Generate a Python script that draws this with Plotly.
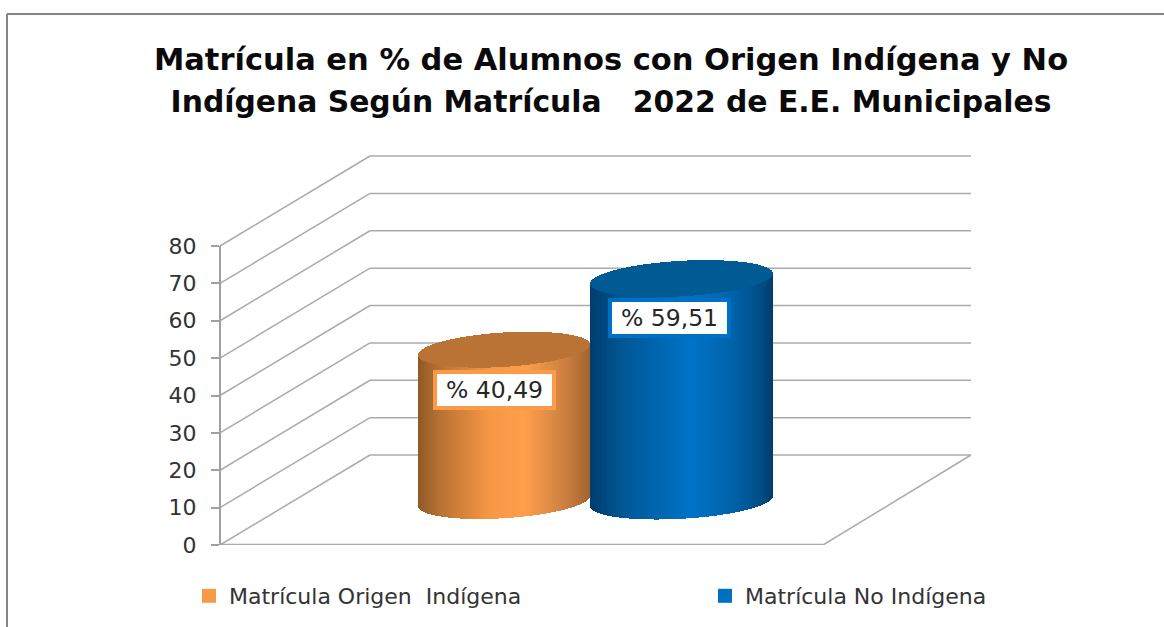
import numpy as np
import plotly.graph_objects as go

# ---- data ----
categories = ["Matrícula Origen  Indígena", "Matrícula No Indígena"]
values = [40.49, 59.51]
value_labels = ["% 40,49", "% 59,51"]
tick_values = [0, 10, 20, 30, 40, 50, 60, 70, 80]
title_lines = ["Matrícula en % de Alumnos con Origen Indígena y No",
               "Indígena Según Matrícula   2022 de E.E. Municipales"]

# ---- style / geometry ----
W, H = 1164, 627
L, R, T, B = 220, 971, 155, 545       # plot area in page pixels
PX_PER_UNIT = 3.7375                  # vertical pixels per value unit
YMAX = (B - T) / PX_PER_UNIT
XMAX = R - L
DEPTH_X, DEPTH_Y = 150, 90 / PX_PER_UNIT
FLOOR_W = 603
GRID = "#ababab"
FONT = "DejaVu Sans"
title_sizes = [30.5, 29.8]

legend_colors = ["#f79a46", "#0070c0"]
top_colors = ["#bb7335", "#005a94"]
label_borders = ["#fb9b48", "#0070c4"]
centers = [284, 461.5]
half_widths = [86, 91.5]
tilts = [25, 25]
half_depths = [18 / PX_PER_UNIT, 18.5 / PX_PER_UNIT]
base_level = 44 / PX_PER_UNIT
stops = [
    [(0, "#8f5a26"), (.14, "#bb7434"), (.42, "#f89846"), (.62, "#ff9f4c"), (.86, "#cb8040"), (1, "#a26430")],
    [(0, "#003d6e"), (.18, "#005896"), (.55, "#0073c8"), (.78, "#0063aa"), (.94, "#004d84"), (1, "#003c68")],
]


def hex2rgb(h):
    return np.array([int(h[i:i + 2], 16) for i in (1, 3, 5)], float)


def shade(f, st):
    pos = [s[0] for s in st]
    rgb = np.array([hex2rgb(s[1]) for s in st])
    c = [np.interp(f, pos, rgb[:, i]) for i in range(3)]
    return "rgb(%d,%d,%d)" % tuple(c)


def ellipse_edges(u, ext, tilt, depth):
    """lower / upper edge of a tilted ellipse at horizontal offset u"""
    a = np.sqrt(ext ** 2 - tilt ** 2)
    t = np.linspace(0, 2 * np.pi, 4001)
    x = a * np.cos(t) + tilt * np.sin(t)
    y = depth * np.sin(t)
    i0, i1 = int(np.argmin(x)), int(np.argmax(x))
    idx = np.arange(i0, i1 + 1) if i0 < i1 else np.r_[np.arange(i0, 4001), np.arange(0, i1 + 1)]
    lo = np.interp(u, x[idx], y[idx])
    idx2 = np.arange(i1, i0 + 1) if i1 < i0 else np.r_[np.arange(i1, 4001), np.arange(0, i0 + 1)]
    up = np.interp(u, x[idx2][::-1], y[idx2][::-1])
    return lo, up


fig = go.Figure()
legend_ids = ["legend", "legend2"]
for k, v in enumerate(values):
    ext = half_widths[k]
    u = np.arange(-ext + .5, ext, 1.0)
    lo, up = ellipse_edges(u, ext, tilts[k], half_depths[k])
    xs = centers[k] + u
    cols = [shade((x + ext) / (2 * ext), stops[k]) for x in u]
    # cylinder body: each strip is exactly the value tall
    fig.add_trace(go.Bar(x=xs, y=[v] * len(u), base=base_level + lo, width=1.0,
                         marker=dict(color=cols, line=dict(width=0)),
                         showlegend=False, hoverinfo="skip"))
    # cylinder top
    fig.add_trace(go.Bar(x=xs, y=up - lo, base=base_level + v + lo, width=1.0,
                         marker=dict(color=top_colors[k], line=dict(width=0)),
                         showlegend=False, hoverinfo="skip"))
    # legend key
    fig.add_trace(go.Scatter(x=[None], y=[None], mode="markers", name=categories[k], legend=legend_ids[k],
                             marker=dict(symbol="square", size=14, color=legend_colors[k])))


def xp(px):
    return (px - L) / XMAX


def yp(py):
    return (B - py) / (B - T)


shapes = []


def seg(x0, y0, x1, y1, color=GRID, width=1.5):
    shapes.append(dict(type="line", xref="paper", yref="y", x0=x0 / XMAX, x1=x1 / XMAX, y0=y0, y1=y1,
                       line=dict(color=color, width=width), layer="below"))


for tv in tick_values:
    seg(0, tv, DEPTH_X, tv + DEPTH_Y)
    seg(DEPTH_X, tv + DEPTH_Y, XMAX, tv + DEPTH_Y)
seg(0, 0, 0, tick_values[-1], "#a0a0a0", 2)
seg(0, 0, FLOOR_W, 0, "#ababab", 2.5)
seg(FLOOR_W, 0, XMAX, DEPTH_Y)

# outer frame of the picture
frame = "#858585"
shapes.append(dict(type="line", xref="paper", yref="paper", x0=xp(7), x1=xp(W), y0=yp(14), y1=yp(14),
                   line=dict(color=frame, width=2)))
shapes.append(dict(type="line", xref="paper", yref="paper", x0=xp(7), x1=xp(7), y0=yp(14), y1=yp(H),
                   line=dict(color=frame, width=2)))

annotations = []
label_pos = [(494, 390), (669, 318)]
for k in range(2):
    annotations.append(dict(xref="paper", yref="paper", x=xp(label_pos[k][0]), y=yp(label_pos[k][1]),
                            text=value_labels[k], showarrow=False, font=dict(family=FONT, size=23.5, color="#262626"),
                            bgcolor="white", bordercolor=label_borders[k], borderwidth=4, borderpad=3,
                            width=109, height=26, align="center"))

title_text = "<br>".join('<span style="font-size:%spx">%s</span>' % (z, s) for z, s in zip(title_sizes, title_lines))

fig.update_layout(
    width=W, height=H, autosize=False, paper_bgcolor="white", plot_bgcolor="rgba(0,0,0,0)",
    margin=dict(l=L, r=W - R, t=T, b=H - B, autoexpand=False),
    barmode="overlay", bargap=0, shapes=shapes, annotations=annotations,
    title=dict(text=title_text, x=611 / W, xanchor="center", y=1 - 70 / H, yanchor="middle",
               font=dict(family=FONT, size=32.5, color="#0a0a0a", weight="bold")),
    xaxis=dict(range=[0, XMAX], visible=False, fixedrange=True),
    yaxis=dict(range=[0, YMAX], tickmode="array", tickvals=tick_values, showgrid=False, zeroline=False,
               showline=False, ticks="outside", ticklen=8, tickwidth=2, tickcolor="#a0a0a0",
               ticklabelstandoff=10, tickfont=dict(family=FONT, size=22, color="#333333"), fixedrange=True),
    legend=dict(xref="container", yref="container", x=189 / W, y=1 - 575 / H,
                xanchor="left", yanchor="top", itemwidth=30,
                font=dict(family=FONT, size=22, color="#333333"), bgcolor="rgba(0,0,0,0)"),
    legend2=dict(xref="container", yref="container", x=705 / W, y=1 - 575 / H,
                 xanchor="left", yanchor="top", itemwidth=30,
                 font=dict(family=FONT, size=22, color="#333333"), bgcolor="rgba(0,0,0,0)"),
)
fig.write_html("out.html", config={"displayModeBar": False},
               post_script="document.body.style.margin='0';")
